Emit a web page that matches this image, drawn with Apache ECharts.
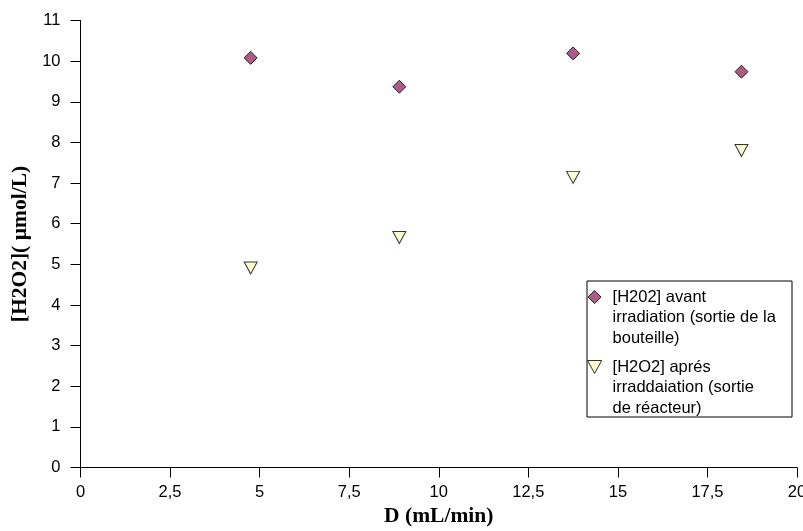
<!DOCTYPE html>
<html>
<head>
<meta charset="utf-8">
<script src="https://cdn.jsdelivr.net/npm/echarts@6/dist/echarts.min.js"></script>
<style>
  html, body { margin: 0; padding: 0; background: #fff; }
  #main { width: 803px; height: 531px; }
</style>
</head>
<body>
<div id="main"></div>
<script>
    // debit (mL/min) et concentrations
    var debit = [4.75, 8.9, 13.75, 18.45];
    var avant = [10.08, 9.37, 10.19, 9.74];
    var apres = [4.91, 5.66, 7.14, 7.8];

    var nomAvant = '[H202] avant\nirradiation (sortie de la\nbouteille)';
    var nomApres = '[H2O2] aprés\nirraddaiation (sortie\nde réacteur)';

    function paires(xs, ys) {
        var out = [];
        for (var i = 0; i < xs.length; i++) out.push([xs[i], ys[i]]);
        return out;
    }

    var axisText = { color: '#000', fontFamily: 'Liberation Sans, Arial', fontSize: 16.5 };
    var nameText = { color: '#000', fontFamily: 'Liberation Serif, Times New Roman', fontSize: 21.5, fontWeight: 'bold' };

    var chart = echarts.init(document.getElementById('main'));
    chart.setOption({
        animation: false,
        backgroundColor: '#fff',
        grid: { left: 80.5, right: 6, top: 20.5, bottom: 63.5, outerBoundsMode: 'none' },
        xAxis: {
            type: 'value',
            min: 0, max: 20, interval: 2.5,
            name: 'D (mL/min)',
            nameLocation: 'middle',
            nameGap: 35,
            nameTextStyle: nameText,
            axisLine: { show: true, onZero: false, lineStyle: { color: '#000', width: 1 } },
            axisTick: { show: true, length: 10, lineStyle: { color: '#000' } },
            axisLabel: Object.assign({
                margin: 16,
                formatter: function (v) { return String(v).replace('.', ','); }
            }, axisText),
            splitLine: { show: false }
        },
        yAxis: {
            type: 'value',
            min: 0, max: 11, interval: 1,
            name: '[H2O2]( µmol/L)',
            nameLocation: 'middle',
            nameGap: 47,
            nameTextStyle: nameText,
            axisLine: { show: true, onZero: false, lineStyle: { color: '#000', width: 1 } },
            axisTick: { show: true, length: 10, lineStyle: { color: '#000' } },
            axisLabel: Object.assign({ margin: 20 }, axisText),
            splitLine: { show: false }
        },
        // cadre de la legende
        graphic: [{
            type: 'rect',
            z: 0,
            shape: { x: 587, y: 281, width: 205, height: 136 },
            style: { fill: '#fff', stroke: '#000', lineWidth: 1 }
        }],
        legend: {
            orient: 'vertical',
            left: 587,
            top: 245.75,
            padding: 0,
            itemGap: -32.5,
            itemWidth: 26,
            itemHeight: 13,
            itemStyle: { borderWidth: 1, borderColor: '#000' },
            // deux lignes vides au-dessus pour aligner le symbole sur la 1re ligne
            formatter: function (name) { return '\n\n' + name; },
            textStyle: {
                color: '#000',
                fontFamily: 'Liberation Sans, Arial',
                fontSize: 16.5,
                lineHeight: 20.5
            },
            data: [
                { name: nomAvant, icon: 'path://M6,0L12,6L6,12L0,6Z' },
                { name: nomApres, icon: 'path://M0,0L12,0L6,11Z' }
            ]
        },
        series: [
            {
                name: nomAvant,
                type: 'scatter',
                symbol: 'diamond',
                symbolSize: 13,
                itemStyle: { color: '#993366', borderColor: '#000', borderWidth: 1 },
                data: paires(debit, avant)
            },
            {
                name: nomApres,
                type: 'scatter',
                symbol: 'triangle',
                symbolRotate: 180,
                symbolSize: [13, 12],
                itemStyle: { color: '#FFFFCC', borderColor: '#000', borderWidth: 1 },
                data: paires(debit, apres)
            }
        ]
    });
</script>
</body>
</html>
